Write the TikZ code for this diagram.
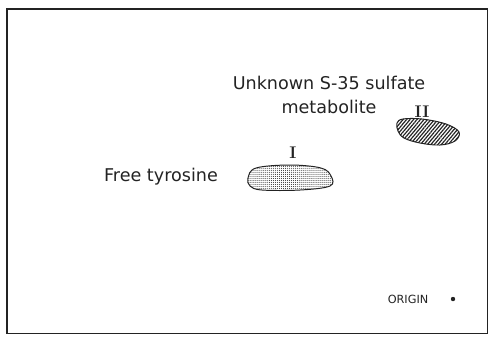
\documentclass[tikz,border=0pt]{standalone}
\usepackage{fontspec}
\setsansfont{DejaVu Sans}
\usetikzlibrary{patterns.meta, positioning}
\definecolor{cInk}{RGB}{35,35,35}
\tikzset{
	label/.style   ={font=\sffamily\fontsize{12.5}{17}\selectfont, text=cInk, inner sep=0pt, align=center},
	numeral/.style ={font=\rmfamily\bfseries\fontsize{12}{14}\selectfont, text=cInk, inner sep=0pt},
	small/.style   ={font=\sffamily\fontsize{8}{9}\selectfont, text=cInk, inner sep=0pt},
	spotI/.style   ={draw=cInk, line width=0.7pt, pattern={Dots[distance=1.4pt, radius=0.35pt]}, pattern color=cInk},
	spotII/.style  ={draw=cInk, line width=0.7pt, pattern={Lines[angle=50, distance=1.9pt, line width=0.85pt]}, pattern color=cInk},
}

\begin{document}
\begin{tikzpicture}[x=0.025cm, y=-0.025cm]
	\useasboundingbox (0,0) rectangle (490,338);
	% ---------- frame ----------
	\draw[cInk, line width=1.1pt] (7,9) rectangle (487.5,333.5);
	% ---------- spot I ----------
	\draw[spotI] plot[smooth cycle, tension=0.6] coordinates {(248,178) (256,168) (290,165) (321,168) (331,176) (330,186) (300,190) (262,190) (250,186)};
	\node[numeral] (numI) at (293,153) {I};
	\node[label] (tyr) at (161,177) {Free tyrosine};
	% ---------- spot II ----------
	\draw[spotII] plot[smooth cycle, tension=0.6] coordinates {(397,123) (403,119) (422,119) (446,124) (459,132) (455,141) (440,145) (420,143) (404,138) (398,131)};
	\node[numeral] (numII) at (422,112) {II};
	\node[label] (unk) at (329,95) {Unknown S-35 sulfate\\metabolite};
	% ---------- origin ----------
	\node[small] (orig) at (408,299) {ORIGIN};
	\fill[cInk] (453,299) circle (2.2);
\end{tikzpicture}
\end{document}
